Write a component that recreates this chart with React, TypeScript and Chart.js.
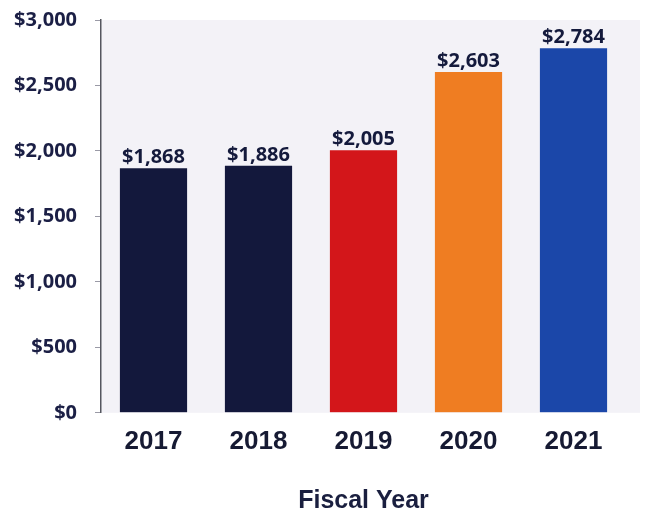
import React, { useEffect, useRef } from "react";
import { Chart, registerables } from "chart.js";

Chart.register(...registerables);

const years = ["2017", "2018", "2019", "2020", "2021"];
const amounts = [1868, 1886, 2005, 2603, 2784];
const barColors = ["#13183c", "#13183c", "#d3161a", "#ef7d22", "#1b47a9"];
const yTicks = [0, 500, 1000, 1500, 2000, 2500, 3000];
const xTitle = "Fiscal Year";

const fmt = (v: number) => "$" + v.toLocaleString("en-US");

const bgPlugin = {
  id: "plotBg",
  beforeDraw(chart: any) {
    const { ctx, chartArea } = chart;
    ctx.save();
    ctx.fillStyle = "#f3f2f7";
    ctx.fillRect(chartArea.left, chartArea.top, chartArea.right - chartArea.left + 14, chartArea.bottom - chartArea.top);
    ctx.restore();
  },
};

const labelPlugin = {
  id: "valueLabels",
  afterDatasetsDraw(chart: any) {
    const { ctx } = chart;
    const meta = chart.getDatasetMeta(0);
    ctx.save();
    ctx.font = "bold 20px 'Open Sans'";
    ctx.fillStyle = "#141a3c";
    ctx.textAlign = "center";
    ctx.textBaseline = "alphabetic";
    meta.data.forEach((bar: any, i: number) => {
      ctx.fillText(fmt(amounts[i]), bar.x, bar.y - 5);
    });
    ctx.restore();
  },
};

export default function App() {
  const ref = useRef<HTMLCanvasElement>(null);
  useEffect(() => {
    const chart = new Chart(ref.current!, {
      type: "bar",
      data: {
        labels: years,
        datasets: [
          {
            data: amounts,
            backgroundColor: barColors,
            barPercentage: 0.8,
            categoryPercentage: 0.8,
          },
        ],
      },
      options: {
        animation: false,
        responsive: true,
        maintainAspectRatio: false,
        layout: { padding: { left: 0, right: 19, top: 4, bottom: 0 } },
        plugins: { legend: { display: false }, tooltip: { enabled: false } },
        scales: {
          x: {
            grid: { display: false, drawTicks: false },
            border: { display: false },
            ticks: {
              color: "#161a33",
              font: { family: "'Liberation Sans', Arial", weight: "bold", size: 26 },
              padding: 13,
            },
            title: {
              display: true,
              text: xTitle,
              color: "#1a1f3f",
              font: { family: "'Liberation Sans', Arial", weight: "bold", size: 25, lineHeight: 1 },
              padding: { top: 19, bottom: 0 },
            },
          },
          y: {
            min: 0,
            max: 3000,
            afterFit(scale: any) {
              scale.width = 101;
            },
            afterBuildTicks(scale: any) {
              scale.ticks = yTicks.map((v) => ({ value: v }));
            },
            grid: { display: true, drawOnChartArea: false, drawTicks: true, tickLength: 6, color: "#9a9aa6" },
            border: { display: true, color: "#55565f", width: 1.5 },
            ticks: {
              color: "#1b1f45",
              font: { family: "'Open Sans'", weight: "bold", size: 20 },
              padding: 18,
              callback: (v: any) => fmt(Number(v)),
            },
          },
        },
      },
      plugins: [bgPlugin, labelPlugin],
    });
    return () => chart.destroy();
  }, []);
  return (
    <div style={{ position: "absolute", left: 0, top: -10, width: 645, height: 524, background: "#fff" }}>
      <canvas ref={ref} />
    </div>
  );
}
